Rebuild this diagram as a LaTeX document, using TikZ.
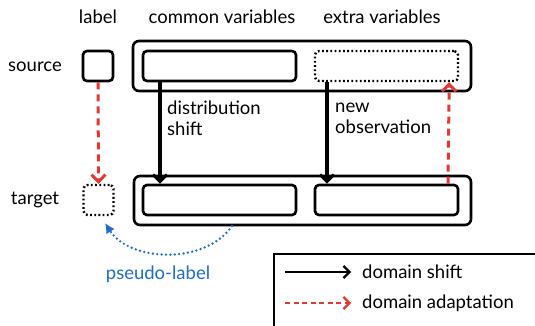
\documentclass[tikz,border=0pt]{standalone}
\usepackage{fontspec}
\setmainfont{Lato}
\usetikzlibrary{arrows.meta}
\definecolor{adaptred}{RGB}{226,58,50}
\definecolor{pseudoblue}{RGB}{28,110,200}
\tikzset{
  txt/.style={font=\fontsize{18.5}{21}\selectfont, inner sep=0pt},
  box/.style={draw, line width=2.6pt, rounded corners=4pt, inner sep=0pt},
  dotbox/.style={box, line width=2.4pt, dash pattern=on 1.8pt off 2.4pt},
  shiftarrow/.style={line width=3.2pt, -{Straight Barb[length=7pt, width=14pt, line width=3pt]}},
  adaptarrow/.style={draw=adaptred, line width=3pt, dash pattern=on 7pt off 5pt,
     -{Straight Barb[length=7pt, width=14pt, line width=3pt]}},
}
\begin{document}
\begin{tikzpicture}[x=1pt, y=-1pt]
\useasboundingbox (0,0) rectangle (535,326);
\clip (0,0) rectangle (535,326);

% column headers
\node[txt] (hlabel) at (98,17) {label};
\node[txt] (hcommon) at (222,17) {common variables};
\node[txt] (hextra) at (382,17) {extra variables};

% row headers
\node[txt] (hsource) at (35,67) {source};
\node[txt] (htarget) at (35,200) {target};

% source row
\node[box, minimum width=30pt, minimum height=30pt] (slab) at (98,66) {};
\node[box, rounded corners=6pt, minimum width=338pt, minimum height=50pt] (sbig) at (302,66) {};
\node[box, minimum width=153pt, minimum height=30pt] (scom) at (219.5,66) {};
\node[dotbox, minimum width=143pt, minimum height=30pt] (sext) at (386.5,66) {};

% target row
\node[dotbox, minimum width=30pt, minimum height=30pt] (tlab) at (98.5,200) {};
\node[box, rounded corners=6pt, minimum width=337pt, minimum height=49pt] (tbig) at (302.5,200.5) {};
\node[box, minimum width=153pt, minimum height=30pt] (tcom) at (219.5,200) {};
\node[box, minimum width=143pt, minimum height=30pt] (text) at (386.5,200) {};

% shifts between domains
\draw[shiftarrow] (scom.south -| 160,0) -- (tcom.north -| 160,0);
\draw[shiftarrow] (sext.south -| 327,0) -- (text.north -| 327,0);
\node[txt, anchor=west, align=left] (dshift) at (167,118.5) {distribution\\shift};
\node[txt, anchor=west, align=left] (newobs) at (335,118.5) {new\\observation};

% domain adaptation
\draw[adaptarrow] (slab.south) -- (tlab.north);
\draw[adaptarrow] (text.north -| 458,0) ++(-10,0) -- ([xshift=-10pt]sext.south east);

% pseudo-label
\coordinate (pstart) at (232,226);
\draw[pseudoblue, line width=2.6pt, line cap=round, dash pattern=on 0pt off 4.4pt,
  -{Latex[length=10pt, width=10pt]}]
  (pstart) .. controls (205,265) and (130,262) .. (105,223);
\node[txt, text=pseudoblue] (plabel) at (158,274) {pseudo-label};

% legend
\node[draw, line width=2.4pt, anchor=north west, minimum width=300pt, minimum height=100pt] (legend) at (273,253) {};
\coordinate (l1a) at (285,272);
\coordinate (l1b) at (351,272);
\coordinate (l2a) at (285,303);
\coordinate (l2b) at (351,303);
\draw[line width=2.2pt, -{Straight Barb[length=6pt, width=12pt, line width=2.2pt]}] (l1a) -- (l1b);
\draw[adaptred, line width=2.2pt, dash pattern=on 5pt off 3.5pt,
  -{Straight Barb[length=6pt, width=12pt, line width=2.2pt]}] (l2a) -- (l2b);
\node[txt, anchor=west] (lshift) at (362,272) {domain shift};
\node[txt, anchor=west] (ladapt) at (362,303) {domain adaptation};
\end{tikzpicture}
\end{document}
